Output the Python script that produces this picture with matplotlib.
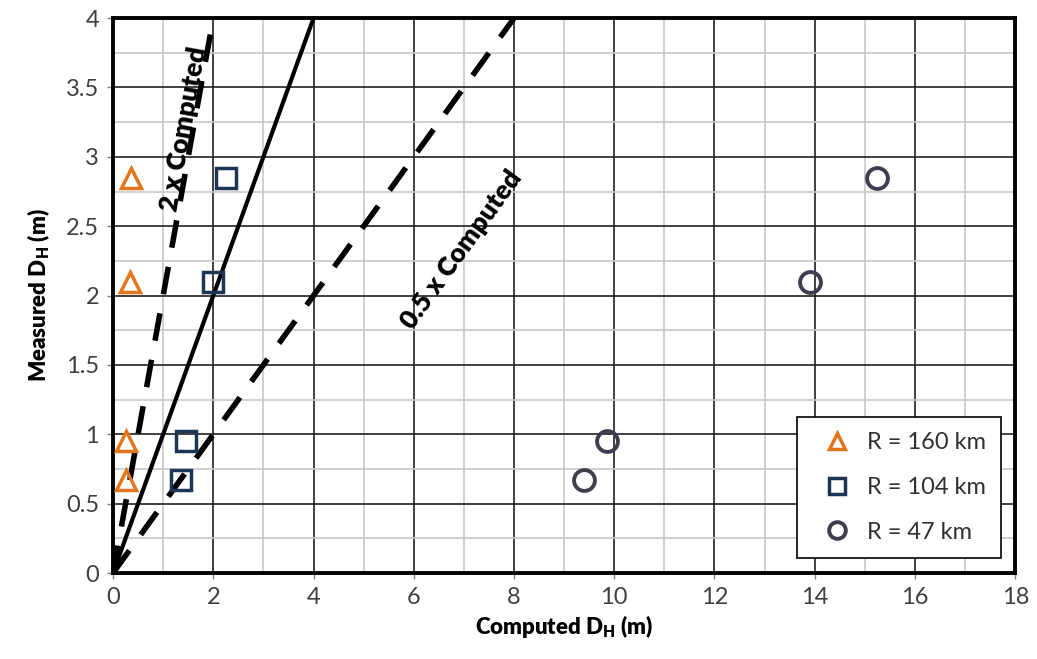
import numpy as np
import matplotlib.pyplot as plt
from matplotlib.ticker import MultipleLocator

plt.rcParams['font.family'] = ['Lato', 'DejaVu Sans']
plt.rcParams['mathtext.fontset'] = 'custom'
plt.rcParams['mathtext.bf'] = 'Lato:heavy'
plt.rcParams['mathtext.rm'] = 'Lato'

# data
series_labels = ["R = 160 km", "R = 104 km", "R = 47 km"]
x_160 = [0.35, 0.33, 0.25, 0.25]
y_160 = [2.85, 2.10, 0.95, 0.67]
x_104 = [2.25, 2.0, 1.45, 1.35]
y_104 = [2.85, 2.10, 0.95, 0.67]
x_47 = [15.25, 13.9, 9.85, 9.4]
y_47 = [2.85, 2.10, 0.95, 0.67]

line_1x_x = [0, 4]
line_1x_y = [0, 4]
line_2x_x = [0, 2]
line_2x_y = [0, 4]
line_05x_x = [0, 8]
line_05x_y = [0, 4]

fig = plt.figure(figsize=(10.37, 6.59), dpi=100)
ax = fig.add_axes([0.109, 0.1305, 0.870, 0.842])

ax.set_xlim(0, 18)
ax.set_ylim(0, 4)
ax.xaxis.set_major_locator(MultipleLocator(2))
ax.xaxis.set_minor_locator(MultipleLocator(1))
ax.yaxis.set_major_locator(MultipleLocator(0.5))
ax.yaxis.set_minor_locator(MultipleLocator(0.25))
ax.grid(which='major', color='#202020', linewidth=1.2, zorder=0)
ax.grid(which='minor', color='#c8c8c8', linewidth=1.2, zorder=0)
ax.set_axisbelow(True)
ax.yaxis.set_major_formatter(plt.FuncFormatter(lambda v, p: f"{v:g}"))

for s in ax.spines.values():
    s.set_linewidth(2.8)
    s.set_color('black')
ax.tick_params(which='major', direction='out', length=4, width=1, color='#808080',
               labelsize=17, labelcolor='#404040', pad=6)
ax.tick_params(which='minor', length=0)

ax.plot(line_1x_x, line_1x_y, color='black', linewidth=3, zorder=3)
ax.plot(line_2x_x, line_2x_y, color='black', linewidth=4, dashes=(5, 3.5), zorder=3)
ax.plot(line_05x_x, line_05x_y, color='black', linewidth=4, dashes=(5, 3.5), zorder=3)

ax.plot(x_160, y_160, linestyle='none', marker='^', markersize=15, markerfacecolor='none',
        markeredgecolor='#E3751C', markeredgewidth=2.5, label=series_labels[0], zorder=4)
ax.plot(x_104, y_104, linestyle='none', marker='s', markersize=14, markerfacecolor='none',
        markeredgecolor='#1F3556', markeredgewidth=2.5, label=series_labels[1], zorder=4)
ax.plot(x_47, y_47, linestyle='none', marker='o', markersize=15, markerfacecolor='none',
        markeredgecolor='#3E3E4E', markeredgewidth=2.8, label=series_labels[2], zorder=4)

ax.text(1.42, 3.2, "2 x Computed", rotation=79.8, rotation_mode='anchor',
        ha='center', va='center', fontsize=19, fontweight='heavy', zorder=5)
ax.text(6.95, 2.33, "0.5 x Computed", rotation=54.2, rotation_mode='anchor',
        ha='center', va='center', fontsize=19, fontweight='heavy', zorder=5)

ax.set_xlabel(r"Computed D$_\mathbf{H}$ (m)", fontsize=16, fontweight='heavy', labelpad=4)
ax.set_ylabel(r"Measured D$_\mathbf{H}$ (m)", fontsize=16, fontweight='heavy', labelpad=10)

leg = ax.legend(loc='upper left', bbox_to_anchor=(797 / 1037, 1 - 417 / 659),
                bbox_transform=fig.transFigure, fontsize=17, frameon=True, fancybox=False,
                edgecolor='black', framealpha=1, borderpad=0.65, labelspacing=1.0,
                handletextpad=0.2, handlelength=2.1, markerscale=0.8, borderaxespad=0)
leg.get_frame().set_linewidth(1.2)
for t in leg.get_texts():
    t.set_color('#303030')

fig.savefig("out.png", dpi=100)
